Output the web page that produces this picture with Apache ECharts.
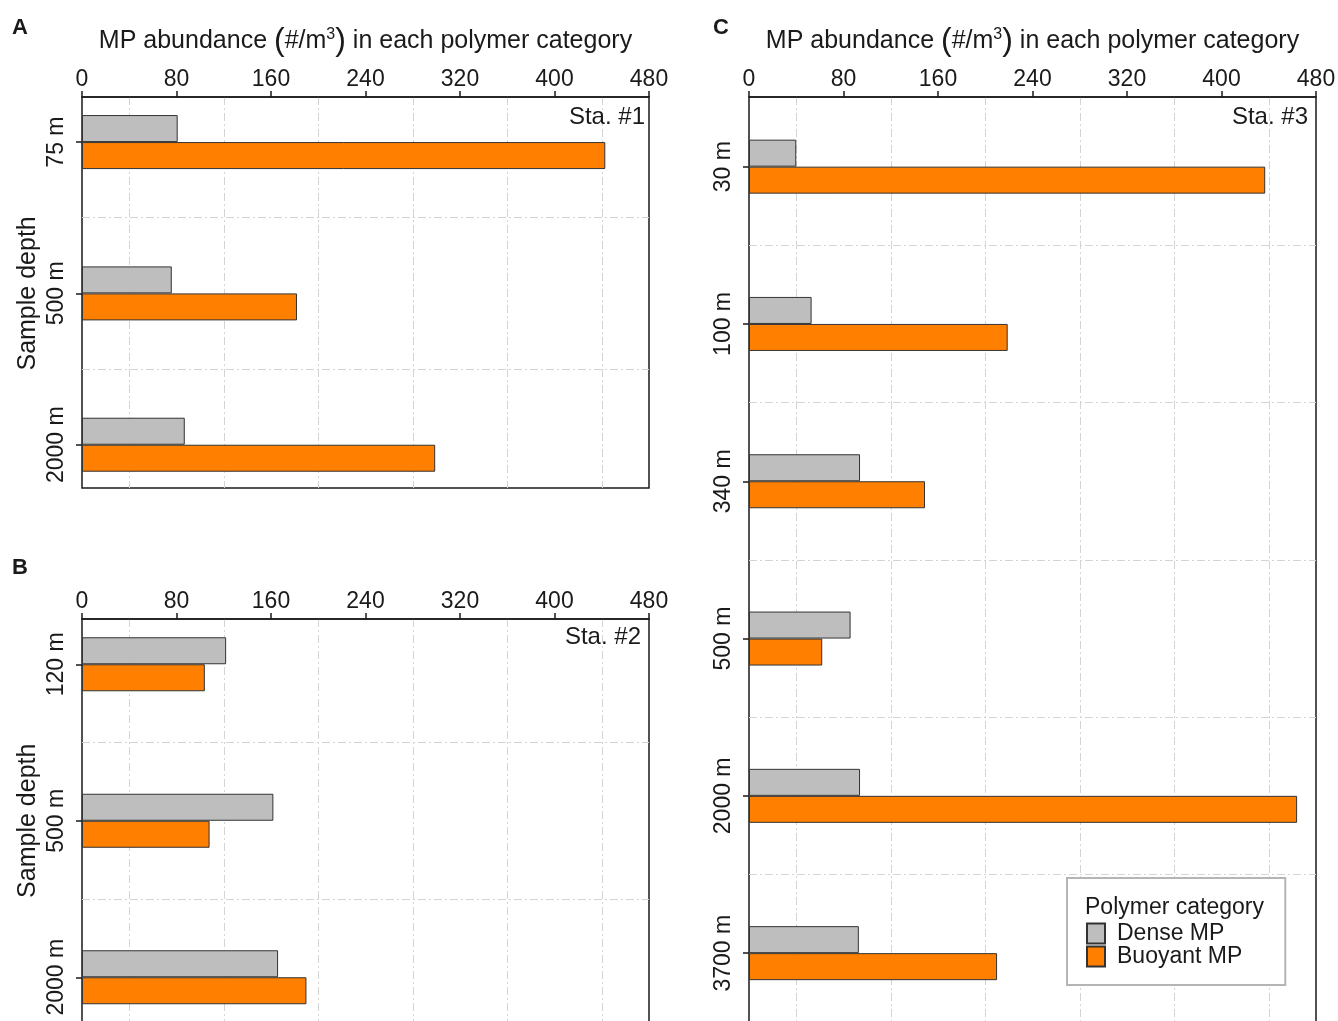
<!DOCTYPE html>
<html>
<head>
<meta charset="utf-8">
<script src="https://cdn.jsdelivr.net/npm/echarts@6/dist/echarts.min.js"></script>
<style>
  html, body { margin: 0; background: #fff; }
  #main { width: 1338px; height: 1021px; }
</style>
</head>
<body>
<div id="main"></div>
<script>
// x axis (MP abundance, #/m3)
const xMin = 0
const xMax = 480
const xStep = 80

// Sta. #1
const depthsA = ['75 m', '500 m', '2000 m']
const denseA = [81, 76, 87]
const buoyantA = [443, 182, 299]
// Sta. #2
const depthsB = ['120 m', '500 m', '2000 m']
const denseB = [122, 162, 166]
const buoyantB = [104, 108, 190]
// Sta. #3
const depthsC = ['30 m', '100 m', '340 m', '500 m', '2000 m', '3700 m']
const denseC = [40, 53, 94, 86, 94, 93]
const buoyantC = [437, 219, 149, 62, 464, 210]

const seriesNames = ['Dense MP', 'Buoyant MP']
const seriesColors = ['#bebebe', '#ff7f00']

const font = 'Liberation Sans, Arial, sans-serif'
const ink = '#1a1a1a'
const gridLine = { color: '#d4d4d4', width: 1, type: [8, 3, 2, 3] }

// layout of each panel (frame = visible box, data = band layout of categories)
const panels = [
  { letter: 'A', letterPos: [12, 17], sta: 'Sta. #1', staRight: 693, staTop: 105,
    depths: depthsA, dense: denseA, buoyant: buoyantA,
    left: 82, frameTop: 97, frameH: 391, dataTop: 66.4, dataH: 454, axisTitle: true, yName: 'Sample depth' },
  { letter: 'B', letterPos: [12, 557], sta: 'Sta. #2', staRight: 697, staTop: 625,
    depths: depthsB, dense: denseB, buoyant: buoyantB,
    left: 82, frameTop: 619, frameH: 404, dataTop: 586, dataH: 469.5, axisTitle: false, yName: 'Sample depth' },
  { letter: 'C', letterPos: [713, 17], sta: 'Sta. #3', staRight: 30, staTop: 105,
    depths: depthsC, dense: denseC, buoyant: buoyantC,
    left: 749, frameTop: 97, frameH: 926, dataTop: 88, dataH: 943.8, axisTitle: true, yName: '' }
]
const plotW = 567

const grid = []
const xAxis = []
const yAxis = []
const series = []
const title = []

panels.forEach((p, i) => {
  const f = i * 2
  const d = i * 2 + 1
  grid.push({ left: p.left, top: p.frameTop, width: plotW, height: p.frameH, show: true,
    borderColor: ink, borderWidth: 1.5, backgroundColor: 'transparent', outerBoundsMode: 'none' })
  grid.push({ left: p.left, top: p.dataTop, width: plotW, height: p.dataH, show: false, outerBoundsMode: 'none' })

  xAxis.push({
    type: 'value', gridIndex: f, position: 'top', min: xMin, max: xMax, interval: xStep,
    name: p.axisTitle ? 'MP abundance {p|(}#/m{sup|3}{p|)} in each polymer category' : '',
    nameLocation: 'middle', nameGap: 40,
    nameTextStyle: {
      fontFamily: font, fontSize: 25, color: ink,
      rich: {
        p: { fontFamily: font, fontSize: 32, color: ink },
        sup: { fontFamily: font, fontSize: 16, color: ink, padding: [0, 0, 13, 0] }
      }
    },
    axisLine: { show: true, onZero: false, lineStyle: { color: ink, width: 1.5 } },
    axisTick: { show: true, length: 6, lineStyle: { color: ink, width: 1.5 } },
    axisLabel: { fontFamily: font, fontSize: 23, color: ink, margin: 6 },
    splitLine: { show: false },
    minorTick: { show: false, splitNumber: 2 },
    minorSplitLine: { show: true, lineStyle: gridLine }
  })
  yAxis.push({ type: 'value', gridIndex: f, show: false })

  xAxis.push({ type: 'value', gridIndex: d, min: xMin, max: xMax, show: false })
  yAxis.push({
    type: 'category', gridIndex: d, data: p.depths, inverse: true,
    name: p.yName, nameLocation: 'middle', nameRotate: 90, nameGap: 41,
    nameTextStyle: { fontFamily: font, fontSize: 25, color: ink },
    axisLine: { show: false, onZero: false },
    axisTick: { show: true, alignWithLabel: true, length: 6, lineStyle: { color: ink, width: 1.5 } },
    axisLabel: { rotate: 90, fontFamily: font, fontSize: 23, color: ink, margin: 14 },
    splitLine: { show: true, showMinLine: false, showMaxLine: false, lineStyle: gridLine }
  })

  const values = [p.dense, p.buoyant]
  seriesNames.forEach((name, k) => {
    series.push({
      type: 'bar', name, xAxisIndex: d, yAxisIndex: d, data: values[k],
      barWidth: 27, barGap: '0%',
      itemStyle: { color: seriesColors[k], borderColor: '#333', borderWidth: 1 }
    })
  })

  title.push({ text: p.letter, left: p.letterPos[0], top: p.letterPos[1], padding: 0,
    textStyle: { fontFamily: font, fontSize: 22, fontWeight: 'bold', color: ink } })
  title.push({ text: p.sta, right: p.staRight, top: p.staTop, padding: 0,
    textStyle: { fontFamily: font, fontSize: 24, fontWeight: 'normal', color: ink } })
})

// legend title
title.push({ text: 'Polymer category', left: 1085, top: 896, padding: 0, z: 10,
  textStyle: { fontFamily: font, fontSize: 23, fontWeight: 'normal', color: ink } })

const option = {
  animation: false,
  backgroundColor: '#ffffff',
  title,
  legend: {
    data: seriesNames, left: 1067, top: 878, orient: 'vertical', icon: 'rect',
    itemWidth: 18, itemHeight: 20, itemGap: 0, selectedMode: false,
    padding: [44, 43, 17, 19], backgroundColor: '#fff', borderColor: '#b5b5b5', borderWidth: 2,
    textStyle: { fontFamily: font, fontSize: 23, lineHeight: 23, color: ink, padding: [0, 0, 0, 7] }
  },
  grid,
  xAxis,
  yAxis,
  series
}

const main = echarts.init(document.getElementById('main'))
main.setOption(option)
</script>
</body>
</html>
